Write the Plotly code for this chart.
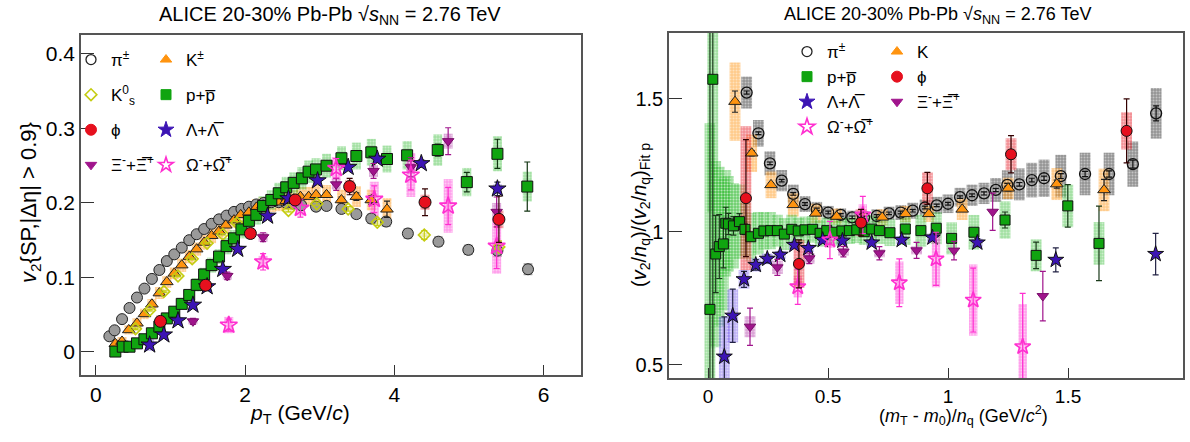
import plotly.graph_objects as go

W, H = 1190, 442
FONT = "Liberation Sans, Arial, Helvetica, sans-serif"
NARROW = "Liberation Sans Narrow, Liberation Sans, Arial, sans-serif"

# ---------------- left panel: v2 vs pT ----------------
pi_pt = [0.18, 0.25, 0.35, 0.45, 0.55, 0.65, 0.75, 0.85, 0.95, 1.05,
         1.15, 1.25, 1.35, 1.45, 1.55, 1.65, 1.75, 1.85, 1.95, 2.05,
         2.15, 2.25, 2.35, 2.45, 2.55, 2.65, 2.75, 2.95, 3.09, 3.29,
         3.49, 3.69, 3.89, 4.18, 4.59, 4.99, 5.38, 5.79]
pi_v2 = [0.021, 0.029, 0.044, 0.059, 0.073, 0.085, 0.098, 0.110, 0.122, 0.131,
         0.140, 0.150, 0.158, 0.165, 0.172, 0.178, 0.183, 0.188, 0.192, 0.195,
         0.198, 0.200, 0.201, 0.201, 0.200, 0.199, 0.197, 0.195, 0.196, 0.192,
         0.185, 0.179, 0.175, 0.159, 0.148, 0.137, 0.136, 0.111]
pi_stat = [0.001, 0.001, 0.001, 0.001, 0.001, 0.001, 0.001, 0.001, 0.001, 0.001,
           0.001, 0.001, 0.001, 0.001, 0.001, 0.001, 0.001, 0.001, 0.001, 0.001,
           0.001, 0.001, 0.001, 0.001, 0.001, 0.001, 0.001, 0.001, 0.002, 0.002,
           0.002, 0.002, 0.003, 0.003, 0.004, 0.004, 0.005, 0.005]
pi_sys = [0.004, 0.004, 0.004, 0.004, 0.004, 0.004, 0.004, 0.004, 0.004, 0.004,
          0.004, 0.004, 0.004, 0.004, 0.004, 0.005, 0.005, 0.005, 0.005, 0.005,
          0.005, 0.005, 0.005, 0.005, 0.006, 0.006, 0.006, 0.006, 0.006, 0.006,
          0.006, 0.007, 0.007, 0.007, 0.007, 0.007, 0.008, 0.008]

k_pt = [0.26, 0.35, 0.44, 0.55, 0.65, 0.75, 0.85, 0.95, 1.05, 1.15,
        1.25, 1.35, 1.45, 1.55, 1.65, 1.74, 1.85, 1.94, 2.05, 2.15,
        2.24, 2.35, 2.45, 2.55, 2.65, 2.74, 2.85, 2.95, 3.09, 3.29,
        3.49, 3.69, 3.9]
k_v2 = [0.011, 0.014, 0.0295, 0.0385, 0.051, 0.064, 0.079, 0.094, 0.1055, 0.1165,
        0.128, 0.138, 0.147, 0.156, 0.162, 0.170, 0.177, 0.184, 0.1875, 0.194,
        0.197, 0.200, 0.201, 0.203, 0.205, 0.2085, 0.2085, 0.211, 0.211, 0.204,
        0.2085, 0.204, 0.1915]
k_stat = [0.001, 0.001, 0.001, 0.001, 0.001, 0.001, 0.001, 0.001, 0.001, 0.001,
          0.001, 0.001, 0.001, 0.001, 0.001, 0.001, 0.001, 0.001, 0.001, 0.001,
          0.001, 0.001, 0.001, 0.001, 0.001, 0.002, 0.002, 0.003, 0.003, 0.004,
          0.005, 0.006, 0.011]
k_sys = [0.006, 0.006, 0.006, 0.007, 0.007, 0.007, 0.008, 0.008, 0.008, 0.009,
         0.009, 0.009, 0.010, 0.010, 0.010, 0.010, 0.010, 0.011, 0.011, 0.011,
         0.011, 0.012, 0.012, 0.012, 0.012, 0.013, 0.013, 0.013, 0.013, 0.014,
         0.014, 0.014, 0.015]

k0_pt = [0.53, 0.72, 0.91, 1.1, 1.29, 1.49, 1.7, 1.89, 2.58, 2.96, 3.38, 3.77, 4.4, 5.4]
k0_v2 = [0.031, 0.056, 0.081, 0.102, 0.125, 0.146, 0.158, 0.173, 0.190, 0.199, 0.192, 0.174, 0.157, 0.141]
k0_stat = [0.001, 0.001, 0.001, 0.001, 0.001, 0.001, 0.001, 0.002, 0.002, 0.002, 0.003, 0.004, 0.006, 0.008]
k0_sys = [0.003, 0.003, 0.003, 0.003, 0.003, 0.003, 0.003, 0.003, 0.003, 0.003, 0.003, 0.003, 0.003, 0.003]

p_pt = [0.26, 0.36, 0.45, 0.55, 0.65, 0.75, 0.85, 0.95, 1.05, 1.15,
        1.25, 1.35, 1.45, 1.55, 1.65, 1.75, 1.85, 1.95, 2.05, 2.15,
        2.24, 2.35, 2.45, 2.55, 2.65, 2.76, 2.85, 2.95, 3.09, 3.29,
        3.49, 3.69, 3.9, 4.17, 4.58, 4.97, 5.38, 5.78]
p_v2 = [0.0005, 0.007, 0.007, 0.0115, 0.017, 0.025, 0.034, 0.045, 0.054, 0.0645,
        0.0765, 0.090, 0.104, 0.1165, 0.128, 0.142, 0.1525, 0.1645, 0.176, 0.184,
        0.196, 0.204, 0.213, 0.221, 0.227, 0.233, 0.242, 0.245, 0.250, 0.260,
        0.263, 0.268, 0.259, 0.264, 0.271, 0.228, 0.266, 0.222]
p_stat = [0.001, 0.001, 0.001, 0.001, 0.001, 0.001, 0.001, 0.001, 0.001, 0.001,
          0.001, 0.001, 0.001, 0.001, 0.001, 0.001, 0.001, 0.001, 0.001, 0.001,
          0.001, 0.001, 0.001, 0.001, 0.001, 0.002, 0.002, 0.002, 0.002, 0.003,
          0.003, 0.003, 0.004, 0.005, 0.008, 0.013, 0.0195, 0.033]
p_sys = [0.004, 0.004, 0.004, 0.005, 0.005, 0.006, 0.006, 0.007, 0.007, 0.008,
         0.008, 0.009, 0.009, 0.010, 0.010, 0.011, 0.011, 0.012, 0.012, 0.013,
         0.013, 0.013, 0.014, 0.014, 0.014, 0.015, 0.015, 0.015, 0.016, 0.016,
         0.018, 0.018, 0.018, 0.019, 0.021, 0.019, 0.0235, 0.02]

phi_pt = [0.865, 1.47, 2.07, 2.67, 3.4, 4.41, 5.4]
phi_v2 = [0.041, 0.0895, 0.159, 0.204, 0.222, 0.201, 0.178]
phi_stat = [0.004, 0.005, 0.005, 0.006, 0.011, 0.018, 0.031]
phi_sys = [0.008, 0.007, 0.007, 0.008, 0.009, 0.010, 0.012]

lam_pt = [0.72, 0.91, 1.1, 1.3, 1.49, 1.7, 1.9, 2.3, 2.58, 2.97, 3.38, 3.77, 4.36, 5.38]
lam_v2 = [0.0095, 0.023, 0.042, 0.063, 0.0877, 0.111, 0.138, 0.1825, 0.206, 0.230, 0.248, 0.259, 0.253, 0.219]
lam_stat = [0.002, 0.002, 0.002, 0.002, 0.002, 0.002, 0.002, 0.002, 0.003, 0.003, 0.003, 0.004, 0.005, 0.009]
lam_sys = [0.008, 0.005, 0.005, 0.005, 0.005, 0.005, 0.005, 0.005, 0.005, 0.005, 0.005, 0.005, 0.005, 0.006]

xi_pt = [1.3, 1.76, 2.24, 3.22, 3.72, 4.22, 4.72, 5.37]
xi_v2 = [0.041, 0.102, 0.154, 0.225, 0.243, 0.248, 0.283, 0.188]
xi_stat = [0.004, 0.005, 0.006, 0.008, 0.010, 0.013, 0.018, 0.020]
xi_sys = [0.004, 0.005, 0.006, 0.007, 0.008, 0.009, 0.010, 0.012]

om_pt = [1.78, 2.24, 2.74, 3.22, 3.73, 4.22, 4.72, 5.37]
om_v2 = [0.036, 0.121, 0.193, 0.2465, 0.205, 0.2375, 0.196, 0.142]
om_stat = [0.008, 0.011, 0.012, 0.013, 0.018, 0.020, 0.025, 0.030]
om_sys = [0.011, 0.008, 0.010, 0.015, 0.0235, 0.0295, 0.036, 0.037]

# ---------------- right panel: scaled ratio vs (mT-m0)/nq ----------------
rpi_x = [0.161, 0.21, 0.258, 0.307, 0.355, 0.404, 0.453, 0.501, 0.553, 0.601,
         0.65, 0.703, 0.754, 0.803, 0.853, 0.904, 0.953, 1.0, 1.05, 1.1,
         1.15, 1.199, 1.247, 1.297, 1.349, 1.4, 1.47, 1.571, 1.671, 1.77, 1.867]
rpi_y = [1.524, 1.371, 1.258, 1.193, 1.143, 1.105, 1.085, 1.073, 1.064, 1.055,
         1.054, 1.060, 1.070, 1.073, 1.080, 1.092, 1.100, 1.106, 1.131, 1.138,
         1.145, 1.158, 1.177, 1.179, 1.195, 1.202, 1.210, 1.218, 1.218, 1.255, 1.446]
rpi_stat = [0.006, 0.005, 0.005, 0.005, 0.005, 0.005, 0.005, 0.005, 0.005, 0.005,
            0.005, 0.005, 0.005, 0.005, 0.005, 0.005, 0.005, 0.005, 0.005, 0.005,
            0.006, 0.006, 0.006, 0.007, 0.007, 0.008, 0.009, 0.010, 0.012, 0.015, 0.028]
rpi_sys = [0.060, 0.050, 0.045, 0.040, 0.035, 0.030, 0.028, 0.025, 0.025, 0.025,
           0.025, 0.025, 0.025, 0.028, 0.030, 0.030, 0.032, 0.035, 0.035, 0.040,
           0.040, 0.045, 0.055, 0.060, 0.065, 0.070, 0.080, 0.080, 0.080, 0.085, 0.095]

rk_x = [0.1125, 0.182, 0.2625, 0.355, 0.449, 0.536, 0.726, 0.823, 0.92, 1.059, 1.251, 1.453, 1.65]
rk_y = [1.49, 1.296, 1.177, 1.102, 1.070, 1.058, 1.055, 1.068, 1.068, 1.085, 1.164, 1.180, 1.158]
rk_stat = [0.04, 0.010, 0.008, 0.006, 0.006, 0.006, 0.006, 0.006, 0.006, 0.008, 0.010, 0.015, 0.040]
rk_sys = [0.147, 0.070, 0.050, 0.044, 0.036, 0.030, 0.030, 0.030, 0.030, 0.040, 0.040, 0.060, 0.080]

rp_x = [0.008, 0.02, 0.032, 0.047, 0.064, 0.074, 0.085, 0.106, 0.131, 0.154,
        0.178, 0.21, 0.233, 0.261, 0.289, 0.318, 0.349, 0.376, 0.404, 0.436,
        0.467, 0.495, 0.526, 0.558, 0.589, 0.62, 0.651, 0.682, 0.714, 0.758,
        0.822, 0.887, 0.951, 1.015, 1.108, 1.2375, 1.367, 1.499, 1.629]
rp_y = [0.709, 1.574, 0.917, 0.945, 0.955, 1.033, 1.030, 1.023, 1.039, 1.010,
        0.982, 0.995, 1.004, 1.005, 1.005, 0.992, 1.010, 1.004, 1.008, 1.010,
        0.995, 1.005, 0.999, 1.004, 1.005, 1.008, 1.001, 1.011, 1.005, 0.997,
        1.011, 1.005, 1.014, 0.976, 0.999, 1.045, 0.912, 1.098, 0.957]
rp_stat = [1.2, 1.2, 0.145, 0.12, 0.09, 0.06, 0.04, 0.035, 0.03, 0.02,
           0.015, 0.010, 0.008, 0.008, 0.008, 0.008, 0.008, 0.008, 0.008, 0.008,
           0.008, 0.008, 0.008, 0.008, 0.008, 0.008, 0.008, 0.008, 0.008, 0.008,
           0.008, 0.009, 0.009, 0.010, 0.012, 0.030, 0.050, 0.080, 0.140]
rp_sys = [0.70, 0.50, 0.35, 0.30, 0.25, 0.20, 0.18, 0.16, 0.14, 0.10,
          0.09, 0.08, 0.07, 0.07, 0.06, 0.06, 0.055, 0.05, 0.05, 0.05,
          0.05, 0.05, 0.05, 0.05, 0.05, 0.05, 0.05, 0.05, 0.05, 0.05,
          0.06, 0.06, 0.06, 0.06, 0.065, 0.07, 0.06, 0.08, 0.08]

rphi_x = [0.158, 0.379, 0.6375, 0.914, 1.2625, 1.744]
rphi_y = [1.127, 0.880, 1.035, 1.164, 1.292, 1.380]
rphi_stat = [0.22, 0.09, 0.05, 0.06, 0.07, 0.12]
rphi_sys = [0.27, 0.09, 0.05, 0.06, 0.06, 0.07]

rl_x = [0.068, 0.103, 0.15, 0.199, 0.247, 0.301, 0.36, 0.418, 0.478, 0.56, 0.682, 0.807, 0.935, 1.122, 1.449, 1.865]
rl_y = [0.531, 0.685, 0.822, 0.876, 0.899, 0.914, 0.951, 0.939, 0.970, 0.967, 0.960, 0.970, 0.979, 0.960, 0.895, 0.917]
rl_stat = [0.15, 0.10, 0.03, 0.02, 0.015, 0.01, 0.01, 0.01, 0.01, 0.01, 0.01, 0.01, 0.012, 0.015, 0.045, 0.078]
rl_sys = [0.15, 0.10, 0.035, 0.025, 0.02, 0.015, 0.015, 0.015, 0.015, 0.015, 0.015, 0.015, 0.015, 0.015, 0.0, 0.0]

rxi_x = [0.175, 0.289, 0.422, 0.564, 0.714, 0.869, 1.025, 1.186, 1.395]
rxi_y = [0.644, 0.867, 0.901, 0.926, 0.920, 0.931, 0.930, 1.076, 0.759]
rxi_stat = [0.07, 0.03, 0.02, 0.02, 0.025, 0.03, 0.035, 0.07, 0.093]
rxi_sys = [0.04, 0.025, 0.02, 0.015, 0.015, 0.015, 0.0, 0.0, 0.0]

rom_x = [0.374, 0.508, 0.645, 0.797, 0.95, 1.105, 1.311]
rom_y = [0.794, 0.970, 1.064, 0.809, 0.899, 0.744, 0.569]
rom_stat = [0.066, 0.07, 0.07, 0.09, 0.10, 0.12, 0.20]
rom_sys = [0.04, 0.03, 0.04, 0.08, 0.107, 0.134, 0.16]

# ---------------- styles ----------------
C_PI = "#8c8c8c"
C_K = "#ff9410"
C_K0 = "#c4cc10"
C_P = "#10a410"
C_PHI = "#e6101e"
C_LAM = "#3c14b4"
C_XI = "#a0148c"
C_OM = "#ff2fd0"

B_PI = "rgba(60,60,60,0.55)"
B_K = "rgba(255,150,20,0.5)"
B_K0 = "rgba(200,200,0,0.35)"
B_P = "rgba(30,180,30,0.42)"
B_PHI = "rgba(230,30,40,0.5)"
B_LAM = "rgba(90,60,230,0.4)"
B_XI = "rgba(160,20,150,0.4)"
B_OM = "rgba(255,40,210,0.45)"

fig = go.Figure()


def add_set(x, y, stat, sys, bw, boxcol, sym, size, fill, edge, ecol, xa, ya, lw=1.0):
    base = [yy - s for yy, s in zip(y, sys)]
    height = [2 * s for s in sys]
    fig.add_trace(go.Bar(
        x=x, y=height, base=base, width=bw, xaxis=xa, yaxis=ya,
        marker=dict(color=boxcol, line=dict(width=0),
                    pattern=dict(shape=".", fillmode="overlay", fgcolor="white",
                                 fgopacity=0.45, size=3, solidity=0.35)),
        showlegend=False, hoverinfo="skip"))
    fig.add_trace(go.Scatter(
        x=x, y=y, mode="markers", xaxis=xa, yaxis=ya,
        marker=dict(symbol=sym, size=size, color=fill, line=dict(color=edge, width=lw)),
        error_y=dict(type="data", array=stat, visible=True, color=ecol, thickness=1.2, width=3),
        showlegend=False, hoverinfo="skip"))


# left panel
LB = 0.12
add_set(pi_pt, pi_v2, pi_stat, pi_sys, LB, B_PI, "circle", 11, "#9a9a9a", "#222", "#222", "x", "y")
add_set(k_pt, k_v2, k_stat, k_sys, LB, B_K, "triangle-up", 11, C_K, "#222", "#222", "x", "y")
add_set(k0_pt, k0_v2, k0_stat, k0_sys, LB, B_K0, "diamond-open", 9, C_K0, C_K0, C_K0, "x", "y", 1.6)
add_set(p_pt, p_v2, p_stat, p_sys, LB, B_P, "square", 11, C_P, "#111", "#113311", "x", "y")
add_set(lam_pt, lam_v2, lam_stat, lam_sys, LB, B_LAM, "star", 13, C_LAM, "#111", "#222244", "x", "y")
add_set(xi_pt, xi_v2, xi_stat, xi_sys, LB, B_XI, "triangle-down", 10, C_XI, "#7a0f6a", C_XI, "x", "y")
add_set(om_pt, om_v2, om_stat, om_sys, LB, B_OM, "star-open", 13, C_OM, C_OM, C_OM, "x", "y", 1.6)
add_set(phi_pt, phi_v2, phi_stat, phi_sys, LB, B_PHI, "circle", 12, C_PHI, "#111", "#330000", "x", "y")

# right panel
RB = 0.045
add_set(rpi_x, rpi_y, rpi_stat, rpi_sys, RB, B_PI, "circle-open", 11, "#111", "#111", "#111", "x2", "y2", 1.3)
add_set(rk_x, rk_y, rk_stat, rk_sys, RB, B_K, "triangle-up", 11, C_K, "#222", "#222", "x2", "y2")
add_set(rp_x, rp_y, rp_stat, rp_sys, RB, B_P, "square", 10, C_P, "#111", "#1a3a1a", "x2", "y2")
add_set(rl_x, rl_y, rl_stat, rl_sys, RB, B_LAM, "star", 12, C_LAM, "#111", "#222244", "x2", "y2")
add_set(rxi_x, rxi_y, rxi_stat, rxi_sys, RB, B_XI, "triangle-down", 10, C_XI, "#7a0f6a", C_XI, "x2", "y2")
add_set(rom_x, rom_y, rom_stat, rom_sys, 0.035, B_OM, "star-open", 12, C_OM, C_OM, C_OM, "x2", "y2", 1.6)
add_set(rphi_x, rphi_y, rphi_stat, rphi_sys, RB, B_PHI, "circle", 11, C_PHI, "#111", "#330000", "x2", "y2")

# legends (legend-only traces)
OVL = "\u0305"
names = {
    "pi": "\u03c0<sup>\u00b1</sup>",
    "kpm": "K<sup>\u00b1</sup>",
    "k": "K",
    "k0": "K<sup>0</sup><sub>s</sub>",
    "p": "p+p" + OVL,
    "phi": "\u03d5",
    "lam": "\u039b+\u039b" + OVL,
    "xi": "\u039e<sup>-</sup>+\u039e" + OVL + "<sup>+</sup>",
    "om": "\u03a9<sup>-</sup>+\u03a9" + OVL + "<sup>+</sup>",
}


def add_leg(name, sym, size, fill, edge, legend, group, xa, ya, lw=1.0):
    fig.add_trace(go.Scatter(
        x=[None], y=[None], mode="markers", name=name, xaxis=xa, yaxis=ya,
        marker=dict(symbol=sym, size=size, color=fill, line=dict(color=edge, width=lw)),
        legend=legend, legendgroup=group, showlegend=True))


add_leg(names["pi"], "circle-open", 10, "#222", "#222", "legend", "a1", "x", "y", 1.3)
add_leg(names["k0"], "diamond-open", 9, C_K0, C_K0, "legend", "a2", "x", "y", 1.6)
add_leg(names["phi"], "circle", 11, C_PHI, C_PHI, "legend", "a3", "x", "y")
add_leg(names["xi"], "triangle-down", 10, C_XI, C_XI, "legend", "a4", "x", "y")
add_leg(names["kpm"], "triangle-up", 10, C_K, C_K, "legend2", "b1", "x", "y")
add_leg(names["p"], "square", 10, C_P, C_P, "legend2", "b2", "x", "y")
add_leg(names["lam"], "star", 12, C_LAM, C_LAM, "legend2", "b3", "x", "y")
add_leg(names["om"], "star-open", 11, C_OM, C_OM, "legend2", "b4", "x", "y", 1.6)

add_leg(names["pi"], "circle-open", 10, "#222", "#222", "legend3", "c1", "x2", "y2", 1.3)
add_leg(names["p"], "square", 10, C_P, C_P, "legend3", "c2", "x2", "y2")
add_leg(names["lam"], "star", 12, C_LAM, C_LAM, "legend3", "c3", "x2", "y2")
add_leg(names["om"], "star-open", 12, C_OM, C_OM, "legend3", "c4", "x2", "y2", 1.6)
add_leg(names["k"], "triangle-up", 10, C_K, C_K, "legend4", "d1", "x2", "y2")
add_leg(names["phi"], "circle", 11, C_PHI, C_PHI, "legend4", "d2", "x2", "y2")
add_leg(names["xi"], "triangle-down", 10, C_XI, C_XI, "legend4", "d3", "x2", "y2")


def leg(xpx, ypx, size, gap):
    return dict(x=xpx / W, y=1 - ypx / H, xanchor="left", yanchor="top",
                font=dict(family=FONT, size=size, color="black"),
                bgcolor="rgba(0,0,0,0)", traceorder="grouped",
                tracegroupgap=gap, itemwidth=30, itemclick=False)


axis_common = dict(showline=True, mirror=True, linecolor="#555", linewidth=1.5,
                   ticks="inside", tickcolor="#333", tickwidth=1.2,
                   showgrid=False, zeroline=False)

fig.update_layout(
    width=W, height=H, margin=dict(l=0, r=0, t=0, b=0),
    paper_bgcolor="white", plot_bgcolor="white", barmode="overlay",
    font=dict(family=FONT, color="black"),
    xaxis=dict(domain=[81 / W, 581 / W], range=[-0.2, 6.5], anchor="y",
               tickvals=[0, 2, 4, 6], ticklen=10, tickfont=dict(size=21),
               ticklabelstandoff=0, **axis_common),
    yaxis=dict(domain=[1 - 375 / H, 1 - 35 / H], range=[-0.031, 0.4255], anchor="x",
               tickvals=[0, 0.1, 0.2, 0.3, 0.4], ticktext=["0", "0.1", "0.2", "0.3", "0.4"],
               ticklen=13, tickfont=dict(size=21), **axis_common),
    xaxis2=dict(domain=[669 / W, 1183 / W], range=[-0.1625, 1.979], anchor="y2",
                tickvals=[0, 0.5, 1, 1.5], ticktext=["0", "0.5", "1", "1.5"],
                ticklen=10, tickfont=dict(size=19, family=NARROW),
                ticklabelstandoff=0, **axis_common),
    yaxis2=dict(domain=[1 - 378 / H, 1 - 33 / H], range=[0.451, 1.748], anchor="x2",
                tickvals=[0.5, 1, 1.5], ticktext=["0.5", "1", "1.5"],
                ticklen=13, tickfont=dict(size=20, family=NARROW), **axis_common),
    legend=leg(71, 42, 17, 10),
    legend2=leg(146, 42, 17, 10),
    legend3=leg(787, 34, 17, 0),
    legend4=leg(877, 34, 17, 0),
)

ann = [
    dict(text="ALICE 20-30% Pb-Pb \u221a<i>s</i><sub>NN</sub> = 2.76 TeV", x=330 / W, y=1 - 16 / H,
         font=dict(size=20)),
    dict(text="ALICE 20-30% Pb-Pb \u221a<i>s</i><sub>NN</sub> = 2.76 TeV", x=937 / W, y=1 - 16 / H,
         font=dict(size=18, family=NARROW)),
    dict(text="<i>p</i><sub>T</sub> (GeV/<i>c</i>)", x=300 / W, y=1 - 414 / H, font=dict(size=21)),
    dict(text="(<i>m</i><sub>T</sub> - <i>m</i><sub>0</sub>)/<i>n</i><sub>q</sub> (GeV/<i>c</i><sup>2</sup>)",
         x=963 / W, y=1 - 415 / H, font=dict(size=18, family=NARROW)),
    dict(text="<i>v</i><sub>2</sub>{SP,|\u0394\u03b7| > 0.9}", x=30 / W, y=1 - 203 / H,
         textangle=-90, font=dict(size=22)),
    dict(text="(<i>v</i><sub>2</sub>/<i>n</i><sub>q</sub>)/(<i>v</i><sub>2</sub>/<i>n</i><sub>q</sub>)<sub>Fit p</sub>",
         x=640 / W, y=1 - 215 / H, textangle=-90, font=dict(size=20, family=NARROW)),
]
for a in ann:
    a.update(xref="paper", yref="paper", showarrow=False, xanchor="center", yanchor="middle")
fig.update_layout(annotations=ann)

fig.write_html("out.html")
